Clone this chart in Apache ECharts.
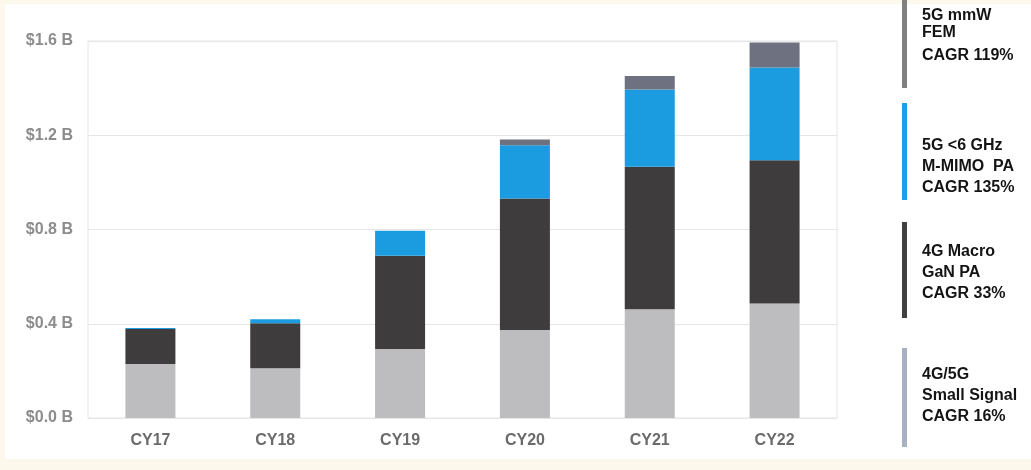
<!DOCTYPE html>
<html>
<head>
<meta charset="utf-8">
<script src="https://cdn.jsdelivr.net/npm/echarts@6/dist/echarts.min.js"></script>
<style>
html,body{margin:0;padding:0;background:#fdf8ec;}
#c{width:1031px;height:470px;}
</style>
</head>
<body>
<div id="c"></div>
<script>
var categories = ['CY17','CY18','CY19','CY20','CY21','CY22'];
var smallSignal = [0.229, 0.211, 0.293, 0.373, 0.462, 0.486];
var macroGaN   = [0.149, 0.191, 0.396, 0.559, 0.604, 0.608];
var mMimo      = [0.004, 0.017, 0.106, 0.226, 0.328, 0.394];
var mmwFem     = [0.000, 0.000, 0.000, 0.024, 0.057, 0.106];
var yTickLabels = ['$0.0 B','$0.4 B','$0.8 B','$1.2 B','$1.6 B'];
var legendBlocks = [
  ['5G mmW','FEM','CAGR 119%'],
  ['5G <6 GHz','M-MIMO  PA','CAGR 135%'],
  ['4G Macro','GaN PA','CAGR 33%'],
  ['4G/5G','Small Signal','CAGR 16%']
];

var colLight = '#bdbdbf', colDark = '#3e3c3d', colBlue = '#1b9ce0', colTop = '#6e7280';
var legendBarColors = ['#808080', '#1ba1e2', '#404040', '#aab0c4'];
var legendBarY = [[0, 88], [103, 200], [222, 318], [348, 447]];
var legendLineY = [[16, 33, 56], [146, 167, 188], [252, 273, 294], [375, 396, 417]];

var graphics = [{
  type: 'rect', z: -10, silent: true,
  shape: {x: 5, y: 4, width: 1026, height: 455},
  style: {fill: '#ffffff'}
}];
legendBlocks.forEach(function (lines, i) {
  graphics.push({
    type: 'rect', silent: true,
    shape: {x: 902, y: legendBarY[i][0], width: 5, height: legendBarY[i][1] - legendBarY[i][0]},
    style: {fill: legendBarColors[i]}
  });
  lines.forEach(function (t, j) {
    graphics.push({
      type: 'text', silent: true,
      x: 922, y: legendLineY[i][j],
      style: {text: t, fill: '#141414', font: 'bold 16px "Liberation Sans", Arial, sans-serif',
              textVerticalAlign: 'middle', verticalAlign: 'middle'}
    });
  });
});

function mk(name, data, color) {
  return {name: name, type: 'bar', stack: 'total', data: data, barWidth: 50,
          itemStyle: {color: color}, silent: true};
}

var chart = echarts.init(document.getElementById('c'), null, {renderer: 'canvas'});
chart.setOption({
  animation: false,
  backgroundColor: 'transparent',
  grid: {left: 88, top: 41, width: 749, height: 377, show: true, borderColor: '#e6e6e6', borderWidth: 1, backgroundColor: 'transparent'},
  xAxis: {
    type: 'category', data: categories,
    axisLine: {show: true, lineStyle: {color: '#e6e6e6'}},
    axisTick: {show: false},
    axisLabel: {color: '#6b6b6b', fontWeight: 'bold', fontSize: 16, margin: 15,
                fontFamily: '"Liberation Sans", Arial, sans-serif'}
  },
  yAxis: {
    type: 'value', min: 0, max: 1.6, interval: 0.4,
    axisLine: {show: false}, axisTick: {show: false},
    splitLine: {lineStyle: {color: '#e6e6e6'}},
    axisLabel: {color: '#8c8c8c', fontWeight: 'bold', fontSize: 16, margin: 15,
                fontFamily: '"Liberation Sans", Arial, sans-serif',
                formatter: function (v) { return yTickLabels[Math.round(v / 0.4)]; }}
  },
  series: [
    mk('4G/5G Small Signal', smallSignal, colLight),
    mk('4G Macro GaN PA', macroGaN, colDark),
    mk('5G <6 GHz M-MIMO PA', mMimo, colBlue),
    mk('5G mmW FEM', mmwFem, colTop)
  ],
  graphic: graphics
});
</script>
</body>
</html>
